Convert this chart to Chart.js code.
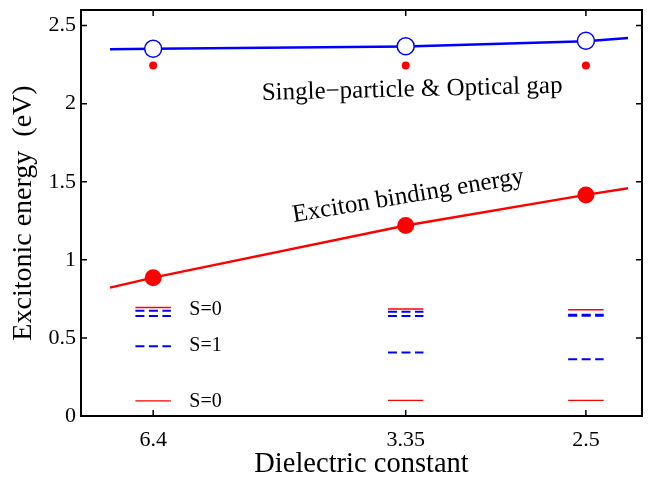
<!DOCTYPE html>
<html>
<head>
<meta charset="utf-8">
<script src="https://cdn.jsdelivr.net/npm/chart.js@4.4.1/dist/chart.umd.min.js"></script>
<style>
    body { margin: 0; background: #ffffff; }
    #contenedor { width: 652px; height: 482px; }
</style>
</head>
<body>
<div id="contenedor"><canvas id="chart1" width="652" height="482"></canvas></div>
<script>
// Constantes dieléctricas (eje x, escala en 1/ε).
const DIELECTRICA = [6.4, 3.35, 2.5];
// Gap de partícula única (círculos abiertos) y gap óptico (puntos rojos).
const GAP_PARTICULA = [2.352, 2.368, 2.403];
const GAP_OPTICO = [2.245, 2.245, 2.245];
// Curva ajustada del gap (incluye los extremos).
const AJUSTE_GAP_EPS = [7.58, 6.4, 3.35, 2.5, 2.36];
const AJUSTE_GAP = [2.348, 2.352, 2.367, 2.400, 2.420];
// Energía de enlace del excitón y su curva.
const ENLACE = [0.886, 1.22, 1.416];
const AJUSTE_ENLACE = [0.822, 0.886, 1.22, 1.416, 1.458];
// Niveles excitónicos.
const S0_ALTO = [0.695, 0.685, 0.680];
const S1_A = [0.674, 0.668, 0.648];
const S1_B = [0.640, 0.640, 0.642];
const S1_BAJO = [0.447, 0.407, 0.364];
const S0_BAJO = [0.097, 0.1, 0.1];
// Marcas del eje y.
const TICKS_Y = [0, 0.5, 1, 1.5, 2, 2.5];

const AZUL = '#0000ff';
const ROJO = '#ff0000';
const MEDIO_ANCHO = 0.0100;

Chart.defaults.font.family = "'Liberation Serif', 'Times New Roman', serif";
Chart.defaults.color = '#000000';

// Función para convertir arreglos en puntos {x, y}.
const puntos = (eps, valores) => eps.map((e, i) => ({ x: 1 / e, y: valores[i] }));

// Función para generar segmentos cortos de cada nivel.
const niveles = (valores) => {
    const datos = [];
    DIELECTRICA.forEach((e, i) => {
        datos.push({ x: 1 / e - MEDIO_ANCHO, y: valores[i] });
        datos.push({ x: 1 / e + MEDIO_ANCHO, y: valores[i] });
        datos.push({ x: 1 / e + MEDIO_ANCHO, y: null });
    });
    return datos;
};

const linea = (datos, color, ancho, guiones) => ({
    data: datos,
    showLine: true,
    borderColor: color,
    borderWidth: ancho,
    borderDash: guiones || [],
    pointRadius: 0,
    spanGaps: false,
    tension: 0
});

// Textos dentro del gráfico (posición en coordenadas de datos).
const ETIQUETAS = [
    { texto: 'Single\u2212particle & Optical gap', x: 0.2175, y: 2.024, angulo: -1.4, size: 25 },
    { texto: 'Exciton binding energy', x: 0.2355, y: 1.243, angulo: -9.5, size: 25 },
    { texto: 'S=0', x: 0.1766, y: 0.68, angulo: 0, size: 20, medio: true },
    { texto: 'S=1', x: 0.1766, y: 0.447, angulo: 0, size: 20, medio: true },
    { texto: 'S=0', x: 0.1766, y: 0.091, angulo: 0, size: 20, medio: true }
];

// Plugin para dibujar el marco con marcas hacia adentro y los textos.
const marco = {
    id: 'marco',
    afterDatasetsDraw(chart) {
        const { ctx, chartArea: a, scales } = chart;
        ctx.save();
        ctx.strokeStyle = '#000000';
        ctx.lineWidth = 1.5;
        ctx.beginPath();
        TICKS_Y.forEach(v => {
            const y = scales.y.getPixelForValue(v);
            ctx.moveTo(a.left, y); ctx.lineTo(a.left + 6, y);
            ctx.moveTo(a.right, y); ctx.lineTo(a.right - 6, y);
        });
        DIELECTRICA.forEach(e => {
            const x = scales.x.getPixelForValue(1 / e);
            ctx.moveTo(x, a.bottom); ctx.lineTo(x, a.bottom - 6);
            ctx.moveTo(x, a.top); ctx.lineTo(x, a.top + 6);
        });
        ctx.stroke();
        ctx.lineWidth = 2;
        ctx.strokeRect(a.left, a.top, a.right - a.left, a.bottom - a.top);

        ETIQUETAS.forEach(et => {
            const x = scales.x.getPixelForValue(et.x);
            const y = scales.y.getPixelForValue(et.y);
            ctx.save();
            ctx.translate(x, y);
            ctx.rotate(et.angulo * Math.PI / 180);
            ctx.font = `${et.size}px 'Liberation Serif', serif`;
            ctx.fillStyle = '#000000';
            ctx.textAlign = 'left';
            ctx.textBaseline = et.medio ? 'middle' : 'alphabetic';
            ctx.fillText(et.texto, 0, 0);
            ctx.restore();
        });
        ctx.restore();
    }
};

new Chart(document.getElementById('chart1'), {
    type: 'scatter',
    data: {
        datasets: [
            {
                data: puntos(DIELECTRICA, GAP_PARTICULA),
                pointRadius: 8.5,
                pointBackgroundColor: '#ffffff',
                pointBorderColor: AZUL,
                pointBorderWidth: 1.5
            },
            {
                data: puntos(DIELECTRICA, GAP_OPTICO),
                pointRadius: 4,
                pointBackgroundColor: ROJO,
                pointBorderWidth: 0
            },
            {
                data: puntos(DIELECTRICA, ENLACE),
                pointRadius: 8.5,
                pointBackgroundColor: ROJO,
                pointBorderWidth: 0
            },
            linea(puntos(AJUSTE_GAP_EPS, AJUSTE_GAP), AZUL, 2.5),
            linea(puntos(AJUSTE_GAP_EPS, AJUSTE_ENLACE), ROJO, 2.5),
            linea(niveles(S0_ALTO), ROJO, 1.5),
            linea(niveles(S1_A), AZUL, 2, [9, 4.5]),
            linea(niveles(S1_B), AZUL, 2, [9, 4.5]),
            linea(niveles(S1_BAJO), AZUL, 2, [9, 4.5]),
            linea(niveles(S0_BAJO), ROJO, 1.2)
        ]
    },
    options: {
        responsive: false,
        animation: false,
        layout: { padding: { top: 7, right: 1, left: 0, bottom: 0 } },
        plugins: {
            legend: { display: false },
            tooltip: { enabled: false }
        },
        scales: {
            x: {
                type: 'linear',
                min: 0.1156,
                max: 0.4316,
                grid: { display: false, drawTicks: false },
                border: { display: false },
                afterBuildTicks: (scale) => {
                    scale.ticks = DIELECTRICA.map(e => ({ value: 1 / e }));
                },
                afterFit: (scale) => {
                    scale.height = 66;
                    scale.paddingLeft = 0;
                    scale.paddingRight = 0;
                },
                ticks: {
                    font: { size: 22 },
                    padding: 11,
                    maxRotation: 0,
                    callback: (value, index) => String(DIELECTRICA[index])
                },
                title: {
                    display: true,
                    text: 'Dielectric constant',
                    font: { size: 28.5 },
                    padding: { top: 0, bottom: 0 }
                }
            },
            y: {
                type: 'linear',
                min: 0,
                max: 2.6,
                grid: { display: false, drawTicks: false },
                border: { display: false },
                afterBuildTicks: (scale) => {
                    scale.ticks = TICKS_Y.map(v => ({ value: v }));
                },
                afterFit: (scale) => {
                    scale.width = 81;
                    scale.paddingTop = 0;
                    scale.paddingBottom = 0;
                },
                ticks: {
                    font: { size: 22 },
                    padding: 5,
                    callback: (value) => String(value)
                },
                title: {
                    display: true,
                    text: 'Excitonic energy  (eV)',
                    font: { size: 28 },
                    padding: { top: 7, bottom: 0 }
                }
            }
        }
    },
    plugins: [marco]
});
</script>
</body>
</html>
